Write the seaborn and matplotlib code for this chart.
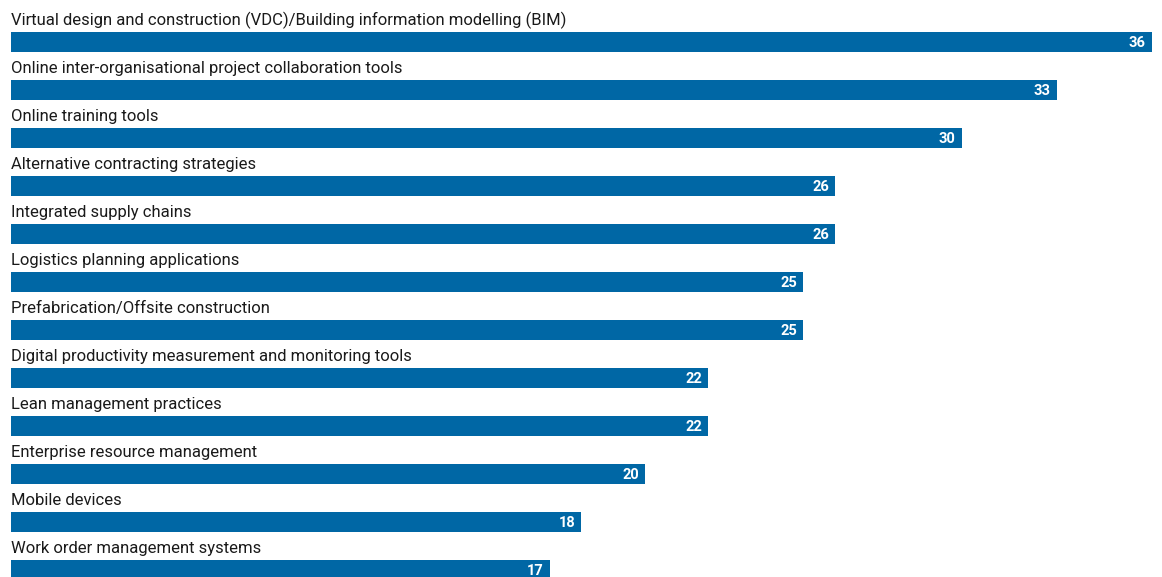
import matplotlib
matplotlib.use("Agg")
import matplotlib.pyplot as plt
import seaborn as sns
import pandas as pd

categories = [
    "Virtual design and construction (VDC)/Building information modelling (BIM)",
    "Online inter-organisational project collaboration tools",
    "Online training tools",
    "Alternative contracting strategies",
    "Integrated supply chains",
    "Logistics planning applications",
    "Prefabrication/Offsite construction",
    "Digital productivity measurement and monitoring tools",
    "Lean management practices",
    "Enterprise resource management",
    "Mobile devices",
    "Work order management systems",
]
values = [36, 33, 30, 26, 26, 25, 25, 22, 22, 20, 18, 17]

BAR_COLOR = "#0067a5"

sns.set_theme(style="white")
plt.rcParams["font.family"] = ["Roboto", "DejaVu Sans"]

df = pd.DataFrame({"item": categories, "share": values})

fig = plt.figure(figsize=(11.62, 5.77), dpi=100)
ax = fig.add_axes([0, 0, 1, 1])

sns.barplot(data=df, x="share", y="item", orient="h", color=BAR_COLOR,
            saturation=1, width=20 / 48, linewidth=0, edgecolor="none", ax=ax)

px_per_unit = 1141 / 36
ax.set_xlim(-11 / px_per_unit, (1162 - 11) / px_per_unit)
ax.set_ylim((577 - 42) / 48, -42 / 48)

for i, (name, val) in enumerate(zip(categories, values)):
    ax.text(0, i - 17 / 48, name, ha="left", va="baseline",
            fontsize=12, color="#1a1a1a")
    ax.text(val - 6 / px_per_unit, i + 1 / 48, str(val), ha="right", va="center",
            fontsize=10.5, fontweight="bold", color="white")

ax.set_axis_off()
fig.savefig("out.png", dpi=100)
